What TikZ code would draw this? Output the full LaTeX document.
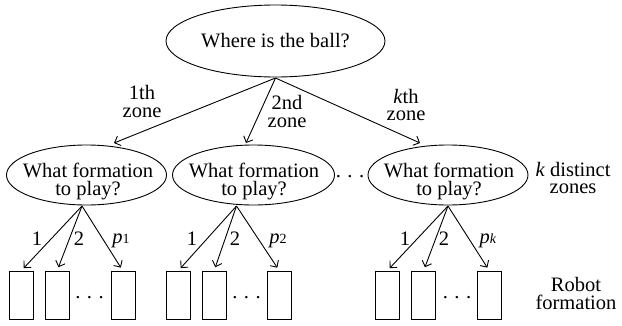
\documentclass[tikz,border=0pt]{standalone}
\usepackage{fontspec}
\setmainfont{Liberation Serif}
\usetikzlibrary{shapes.geometric,arrows.meta,calc}
\newcommand{\tdots}{.\kern0.32em.\kern0.32em.}
\begin{document}
\begin{tikzpicture}[x=1pt,y=-1pt,
  every node/.style={inner sep=0pt,outer sep=0pt},
  ell/.style={draw,ellipse,line width=0.9pt},
  txt/.style={font=\fontsize{20.5}{17.5}\selectfont,align=center},
  ftxt/.style={font=\fontsize{20.5}{18}\selectfont,align=center},
  lbl/.style={font=\fontsize{20.5}{17.5}\selectfont},
  rbox/.style={draw,line width=0.9pt,minimum width=24pt,minimum height=48pt},
  arr/.style={line width=0.9pt,-{Straight Barb[length=5pt,width=10pt]}},
  barr/.style={arr,shorten >=4pt}]
\useasboundingbox (0,0) rectangle (622,325);
% top
\node[ell,minimum width=219pt,minimum height=72pt] (top) at (275.5,41) {};
\node[txt,anchor=base] (toptxt) at (275.5,47) {Where is the ball?};
% middle ellipses
\node[ell,minimum width=160pt,minimum height=60pt] (m1) at (86.5,175) {};
\node[ell,minimum width=162pt,minimum height=60pt] (m2) at (253.5,175) {};
\node[ell,minimum width=160pt,minimum height=60pt] (m3) at (448,175) {};
\node[ftxt,anchor=base] (t1) at (88,195) {What formation\\to play?};
\node[ftxt,anchor=base] (t2) at (254,195) {What formation\\to play?};
\node[ftxt,anchor=base] (t3) at (449,195) {What formation\\to play?};
\node[lbl,anchor=base] (mdots) at (350,177) {\tdots};
\node[txt,anchor=base] (kz) at (573,193.5) {\textit{k} distinct\\zones};
% zone labels
\node[txt,anchor=base] (z1) at (142,117) {1th\\zone};
\node[txt,anchor=base] (z2) at (287,127) {2nd\\zone};
\node[txt,anchor=base] (zk) at (406,120.5) {\textit{k}th\\zone};
% top arrows
\draw[arr] ($(top.south)+(0,1)$) -- ($(m1.north)+(27.5,-2)$);
\draw[arr] ($(top.south)+(0,1)$) -- ($(m2.north)+(-7.5,-2)$);
\draw[arr] ($(top.south)+(0,1)$) -- ($(m3.north)+(-28,-2)$);
% boxes
\foreach \n/\x in {b11/21,b12/57,b13/123,b21/178,b22/214,b23/279.5,b31/387,b32/423.5,b33/489.5}
  \node[rbox] (\n) at (\x,295) {};
\node[lbl,anchor=base] (bd1) at (89.5,298) {\tdots};
\node[lbl,anchor=base] (bd2) at (246.5,298) {\tdots};
\node[lbl,anchor=base] (bd3) at (457,298) {\tdots};
% lower arrows
\coordinate (s1) at ($(m1.south)+(-4.5,1)$);
\coordinate (s2) at ($(m2.south)+(-17,1)$);
\coordinate (s3) at ($(m3.south)+(0,1)$);
\draw[barr] (s1) -- (b11.north);
\draw[barr] (s1) -- (b12.north);
\draw[barr] (s1) -- (b13.north);
\draw[barr] (s2) -- (b21.north);
\draw[barr] (s2) -- (b22.north);
\draw[barr] (s2) -- (b23.north);
\draw[barr] (s3) -- (b31.north);
\draw[barr] (s3) -- (b32.north);
\draw[barr] (s3) -- (b33.north);
% lower labels
\node[lbl,anchor=base] (l11) at (37,245) {1};
\node[lbl,anchor=base] (l12) at (79,245) {2};
\node[lbl,anchor=base] (l13) at (121,243) {\textit{p}{\fontsize{14}{14}\selectfont 1}};
\node[lbl,anchor=base] (l21) at (192,245) {1};
\node[lbl,anchor=base] (l22) at (235,245) {2};
\node[lbl,anchor=base] (l23) at (278,243) {\textit{p}{\fontsize{14}{14}\selectfont 2}};
\node[lbl,anchor=base] (l31) at (405,245) {1};
\node[lbl,anchor=base] (l32) at (444,245) {2};
\node[lbl,anchor=base] (l33) at (488,243) {\textit{p}{\fontsize{14}{14}\selectfont\textit{k}}};
\node[txt,anchor=base] (rf) at (576,309) {Robot\\formation};
\end{tikzpicture}
\end{document}
